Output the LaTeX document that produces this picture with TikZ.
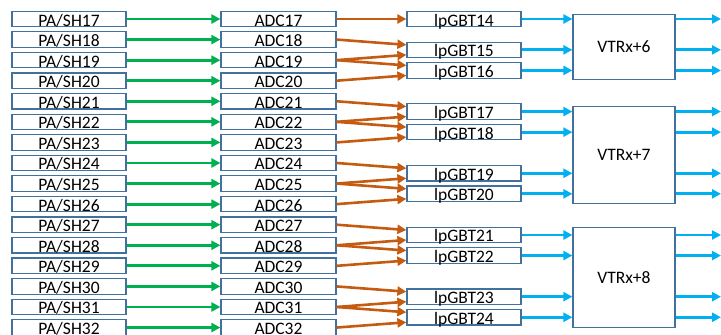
\documentclass[tikz,border=0pt]{standalone}
\usepackage{fontspec}
\setmainfont{Carlito}
\usetikzlibrary{arrows.meta,calc}
\definecolor{boxc}{HTML}{41719C}
\definecolor{grn}{HTML}{00B050}
\definecolor{org}{HTML}{C55A11}
\definecolor{blu}{HTML}{00B0F0}
\begin{document}
\begin{tikzpicture}[x=1pt,y=-1pt,
  box/.style={draw=boxc, line width=1.2pt, fill=white, inner sep=0pt,
    minimum height=15.5pt, text height=14pt, text depth=0pt,
    font=\fontsize{17.5}{18}\selectfont},
  vbox/.style={draw=boxc, line width=1.2pt, fill=white, inner sep=0pt,
    minimum width=102pt, font=\fontsize{17.5}{18}\selectfont},
  grnarrow/.style={draw=grn, line width=2.8pt, -{Triangle[length=9pt,width=9pt]}},
  orgarrow/.style={draw=org, line width=2.6pt, -{Triangle[length=9pt,width=9pt]}},
  bluarrow/.style={draw=blu, line width=2.8pt, -{Triangle[length=9pt,width=9pt]}}]
\useasboundingbox (0,0) rectangle (721,335);
\coordinate (redge) at (721,0);
% PA/SH and ADC rows
\foreach \n in {17,...,32}{
  \pgfmathsetmacro{\yy}{19+(\n-17)*20.57}
  \node[box, minimum width=114pt] (pa\n) at (69,\yy) {PA/SH\n};
  \node[box, minimum width=115pt] (adc\n) at (278.5,\yy) {ADC\n};
  \draw[grnarrow] (pa\n.east) -- (adc\n.west);
}
% lpGBT
\node[box, minimum width=114pt] (lp14) at (464,19) {lpGBT14};
\draw[orgarrow] (adc17.east) -- (lp14.west);
\foreach \g in {0,...,4}{
  \pgfmathtruncatemacro{\a}{18+3*\g}
  \pgfmathtruncatemacro{\b}{\a+1}
  \pgfmathtruncatemacro{\c}{\a+2}
  \pgfmathtruncatemacro{\l}{15+2*\g}
  \pgfmathtruncatemacro{\m}{\l+1}
  \pgfmathsetmacro{\ya}{19+(\a-16.5)*20.57}
  \pgfmathsetmacro{\yb}{19+(\a-15.5)*20.57}
  \node[box, minimum width=114pt] (lp\l) at (464,\ya) {lpGBT\l};
  \node[box, minimum width=114pt] (lp\m) at (464,\yb) {lpGBT\m};
  \draw[orgarrow] (adc\a.east) -- ([yshift=5pt]lp\l.west);
  \draw[orgarrow] (adc\b.east) -- ([yshift=-5pt]lp\l.west);
  \draw[orgarrow] (adc\b.east) -- ([yshift=5pt]lp\m.west);
  \draw[orgarrow] (adc\c.east) -- ([yshift=-5pt]lp\m.west);
}
% VTRx
\node[vbox, minimum height=65pt] (v6) at (624,46.7) {VTRx+6};
\node[vbox, minimum height=96.6pt] (v7) at (624,155) {VTRx+7};
\node[vbox, minimum height=100pt] (v8) at (624,277.3) {VTRx+8};
\foreach \k/\v in {14/6,15/6,16/6,17/7,18/7,19/7,20/7,21/8,22/8,23/8,24/8}{
  \draw[bluarrow] (lp\k.east) -- (lp\k.east -| v\v.west);
  \draw[bluarrow] (lp\k.east -| v\v.east) -- (lp\k.east -| redge);
}
\end{tikzpicture}
\end{document}
